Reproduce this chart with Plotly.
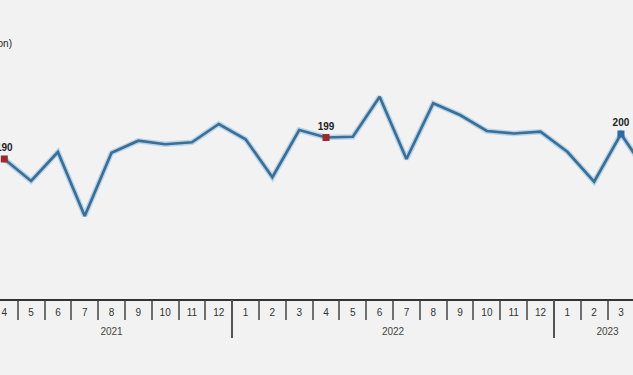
import plotly.graph_objects as go

years = ["2021"] * 9 + ["2022"] * 12 + ["2023"] * 4
months = [str(m) for m in range(4, 13)] + [str(m) for m in range(1, 13)] + [str(m) for m in range(1, 5)]
values = [190.0, 181.2, 192.8, 167.2, 192.5, 197.3, 195.9, 196.7, 204.0,
          197.9, 182.7, 201.6, 198.6, 198.9, 214.9, 190.0, 212.3, 207.6,
          201.2, 200.2, 200.9, 192.9, 180.9, 200.0, 184.2]
highlight_red = [0, 12]
highlight_blue = [23]
unit_text = "(Million)"

FONT = "Liberation Sans, Arial, sans-serif"
pos = list(range(len(values)))

# year groups derived from the data order
year_names = []
for y in years:
    if y not in year_names:
        year_names.append(y)
year_centers = [sum(i for i in pos if years[i] == yn) / years.count(yn) for yn in year_names]
year_bounds = [i + 0.5 for i in pos[:-1] if years[i] != years[i + 1]]
month_bounds = [i + 0.5 for i in pos[:-1]]

line_color = "#3b6f95"
fig = go.Figure()
fig.add_trace(go.Scatter(x=pos, y=values, mode="lines",
                         line=dict(color="rgba(140,190,225,0.55)", width=5.5),
                         hoverinfo="skip", showlegend=False))
fig.add_trace(go.Scatter(x=pos, y=values, mode="lines",
                         line=dict(color=line_color, width=2.7),
                         customdata=[f"{m}/{y}" for m, y in zip(months, years)],
                         hovertemplate="%{customdata}: %{y}<extra></extra>",
                         showlegend=False))

for idx_list, col in ((highlight_red, "#9b2a2c"), (highlight_blue, "#2f6aa0")):
    fig.add_trace(go.Scatter(
        x=[pos[i] for i in idx_list],
        y=[values[i] for i in idx_list],
        mode="markers+text",
        marker=dict(symbol="square", size=7, color=col),
        text=[f"<b>{round(values[i]):d}</b>" for i in idx_list],
        textposition="top center",
        textfont=dict(family=FONT, size=10, color="#222"),
        showlegend=False))

# invisible trace to activate the year axis
fig.add_trace(go.Scatter(x=[pos[0], pos[-1]], y=[values[0], values[-1]], xaxis="x2",
                         mode="markers", marker=dict(opacity=0), hoverinfo="skip",
                         showlegend=False))

fig.add_annotation(text=unit_text, xref="paper", yref="paper",
                   x=14 / 633, y=1 - 43 / 299, xanchor="right", yanchor="middle",
                   showarrow=False,
                   font=dict(family=FONT, size=10, color="#222"))

xr = [-0.16, 23.45]
fig.update_layout(
    width=633, height=375,
    margin=dict(l=0, r=0, t=0, b=76, pad=0),
    paper_bgcolor="#f2f2f2", plot_bgcolor="#f2f2f2",
    xaxis=dict(range=xr, automargin=False,
               showline=True, linecolor="#333", linewidth=1.5,
               tickmode="array", tickvals=pos, ticktext=months, ticks="",
               ticklabelstandoff=3,
               minor=dict(tickmode="array", tickvals=month_bounds, ticks="outside",
                          ticklen=19, tickwidth=2, tickcolor="#707070", showgrid=False),
               showgrid=False, zeroline=False,
               tickfont=dict(family=FONT, size=10, color="#333")),
    xaxis2=dict(range=xr, overlaying="x", anchor="y", side="bottom", automargin=False,
                showline=False, tickmode="array", tickvals=year_centers,
                ticktext=year_names, ticks="", ticklabelstandoff=25,
                minor=dict(tickmode="array", tickvals=year_bounds, ticks="outside",
                           ticklen=38, tickwidth=1.5, tickcolor="#555", showgrid=False),
                showgrid=False, zeroline=False,
                tickfont=dict(family=FONT, size=10, color="#444")),
    yaxis=dict(range=[134, 253.6], visible=False, showgrid=False, automargin=False),
)
fig.write_html("out.html", config={"displayModeBar": False},
               post_script="document.body.style.margin='0px';document.body.style.background='#f2f2f2';")
